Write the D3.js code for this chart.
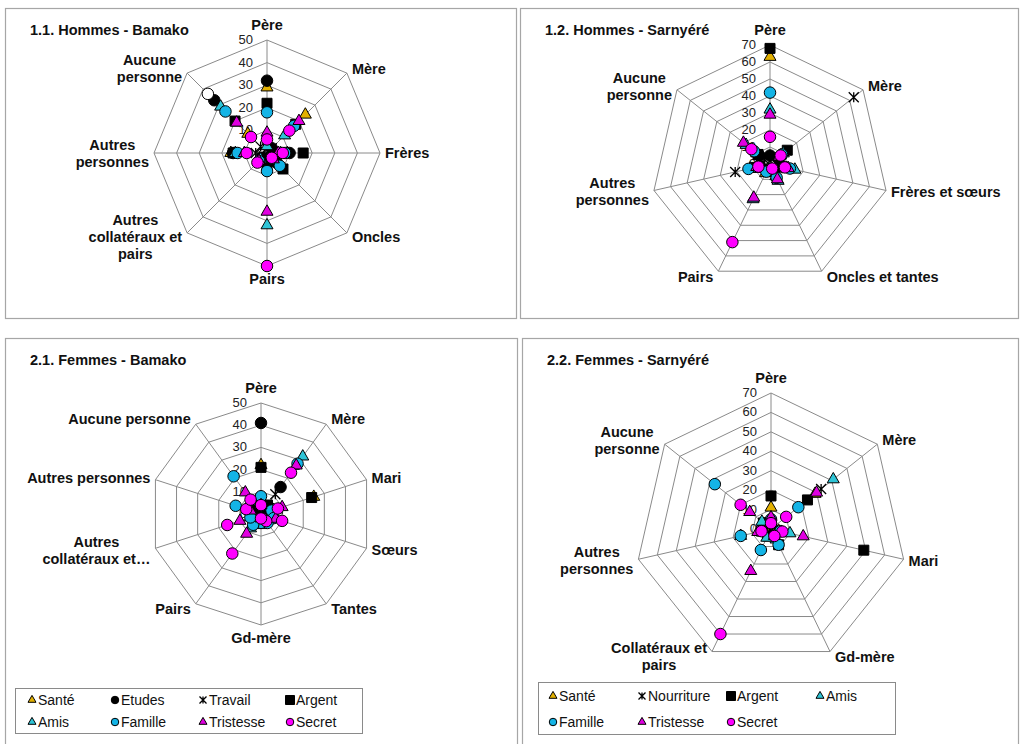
<!DOCTYPE html>
<html>
<head>
<meta charset="utf-8">
<script src="https://cdn.jsdelivr.net/npm/d3@7"></script>
<style>
  body { margin: 0; background: #fff; }
  svg { display: block; font-family: "Liberation Sans", Arial, sans-serif; }
</style>
</head>
<body>
<svg id="chart" width="1020" height="744"></svg>
<script>
// ---------- 1.1 Hommes - Bamako ----------
const categoriesHB = ["Père", "Mère", "Frères", "Oncles", "Pairs",
  "Autres\ncollatéraux et\npairs", "Autres\npersonnes", "Aucune\npersonne"];
const santeHB     = [29, 24,  9,  5,  3, 4, 16, 12];
const etudesHB    = [32,  3, 10,  6,  4, 3, 15, 33];
const travailHB   = [ 2,  3,  4,  3,  2, 2,  5,  4];
const argentHB    = [22, 18, 16, 10,  5, 3, 15, 20];
const amisHB      = [ 3, 11,  6,  5, 32, 4, 14, 29];
const familleHB   = [18, 17,  8,  8,  8, 5, 13, 26];
const tristesseHB = [ 9, 20,  5,  4, 26, 5, 10, 19];
const secretHB    = [ 6, 14,  7,  3, 50, 6,  9, 10];
const nonPreciseHB = [null, null, null, null, null, null, null, 37];

// ---------- 1.2 Hommes - Sarnyéré ----------
const categoriesHS = ["Père", "Mère", "Frères et sœurs", "Oncles et tantes", "Pairs",
  "Autres\npersonnes", "Aucune\npersonne"];
const santeHS     = [63,  8, 10,  8,  6,  8, 10];
const etudesHS    = [ 5,  6,  7,  5,  4,  6,  8];
const travailHS   = [ 2, 63,  5,  4,  3, 21,  4];
const argentHS    = [68, 13,  6,  5,  4,  9,  9];
const amisHS      = [32, 10, 15, 11, 23, 12, 18];
const familleHS   = [42,  9, 12,  9,  5, 13, 12];
const tristesseHS = [29,  7, 11, 10, 22,  8, 20];
const secretHS    = [16,  8,  9,  3, 51,  7, 14];

// ---------- 2.1 Femmes - Bamako ----------
const categoriesFB = ["Père", "Mère", "Mari", "Sœurs", "Tantes", "Gd-mère", "Pairs",
  "Autres\ncollatéraux et…", "Autres personnes", "Aucune personne"];
const santeFB     = [22,  4, 25,  3, 2, 2,  3,  3,  4,  5];
const etudesFB    = [41, 15,  5,  4, 3, 2,  3,  3,  4,  5];
const travailFB   = [ 3, 11,  8,  6, 3, 2,  2,  3,  3,  4];
const argentFB    = [21,  5, 24,  3, 2, 2,  3,  3,  4,  5];
const amisFB      = [ 5, 32,  6,  4, 3, 5,  8,  5,  6,  7];
const familleFB   = [ 8, 28,  5,  6, 5, 4,  6,  5, 12, 21];
const tristesseFB = [ 4, 27, 10,  7, 3, 2, 11, 10,  5, 12];
const secretFB    = [ 4, 23,  8, 10, 4, 2, 22, 16,  7,  8];

// ---------- 2.2 Femmes - Sarnyéré ----------
const categoriesFS = ["Père", "Mère", "Mari", "Gd-mère", "Collatéraux et\npairs",
  "Autres\npersonnes", "Aucune\npersonne"];
const santeFS      = [11, 29,  4,  3,  3,  4,  4];
const nourritureFS = [ 3, 33,  3,  2,  2,  3,  3];
const argentFS     = [17, 24, 49,  9,  4,  5,  5];
const amisFS       = [ 3, 41, 10,  6,  5, 16,  6];
const familleFS    = [ 5, 18,  5,  9, 12, 16, 37];
const tristesseFS  = [ 6, 30, 17,  4, 24,  7, 14];
const secretFS     = [ 3, 10,  6,  4, 60,  5, 20];

// Marker look for every series
const seriesStyle = {
  "Santé":      { shape: "triangle", fill: "#E2B000" },
  "Etudes":     { shape: "circle",   fill: "#000000" },
  "Travail":    { shape: "star",     fill: "#000000" },
  "Nourriture": { shape: "star",     fill: "#000000" },
  "Argent":     { shape: "square",   fill: "#000000" },
  "Amis":       { shape: "triangle", fill: "#2EC4D6" },
  "Famille":    { shape: "circle",   fill: "#14B4E6" },
  "Tristesse":  { shape: "triangle", fill: "#E000E0" },
  "Secret":     { shape: "circle",   fill: "#FF00FF" },
  "Non précisé":{ shape: "circle",   fill: "#FFFFFF" }
};

const panels = [
  {
    title: "1.1. Hommes - Bamako", box: [5, 8, 511, 310],
    cx: 267, cy: 153, radius: 113, max: 50, step: 10,
    categories: categoriesHB,
    series: [["Santé", santeHB], ["Etudes", etudesHB], ["Travail", travailHB],
             ["Argent", argentHB], ["Amis", amisHB], ["Famille", familleHB],
             ["Non précisé", nonPreciseHB],
             ["Tristesse", tristesseHB], ["Secret", secretHB]]
  },
  {
    title: "1.2. Hommes - Sarnyéré", box: [520, 8, 498, 310],
    cx: 770, cy: 164, radius: 119, max: 70, step: 10,
    categories: categoriesHS,
    series: [["Santé", santeHS], ["Etudes", etudesHS], ["Travail", travailHS],
             ["Argent", argentHS], ["Amis", amisHS], ["Famille", familleHS],
             ["Tristesse", tristesseHS], ["Secret", secretHS]]
  },
  {
    title: "2.1. Femmes - Bamako", box: [5, 338, 512, 420],
    cx: 261, cy: 514, radius: 111, max: 50, step: 10,
    categories: categoriesFB,
    series: [["Santé", santeFB], ["Etudes", etudesFB], ["Travail", travailFB],
             ["Argent", argentFB], ["Amis", amisFB], ["Famille", familleFB],
             ["Tristesse", tristesseFB], ["Secret", secretFB]],
    legend: { box: [15, 688, 347, 45], cols: [32, 115, 203, 290], rows: [700, 722],
              items: ["Santé", "Etudes", "Travail", "Argent", "Amis", "Famille", "Tristesse", "Secret"] }
  },
  {
    title: "2.2. Femmes - Sarnyéré", box: [522, 338, 496, 420],
    cx: 771, cy: 529, radius: 136, max: 70, step: 10,
    categories: categoriesFS,
    series: [["Santé", santeFS], ["Nourriture", nourritureFS], ["Argent", argentFS],
             ["Amis", amisFS], ["Famille", familleFS], ["Tristesse", tristesseFS],
             ["Secret", secretFS]],
    legend: { box: [538, 682, 357, 52], cols: [553, 642, 731, 820], rows: [696, 722],
              items: ["Santé", "Nourriture", "Argent", "Amis", "Famille", "Tristesse", "Secret"] }
  }
];

const svg = d3.select("#chart");
const GRID = "#8a8a8a";

// Append one marker of the given shape/width at (x, y)
function drawMarker(g, shape, fill, w, x, y) {
  if (shape === "star") {
    const h = w / 2;
    g.append("path")
      .attr("transform", `translate(${x},${y})`)
      .attr("d", `M${-h},${-h}L${h},${h}M${-h},${h}L${h},${-h}M0,${-h}L0,${h}`)
      .attr("stroke", "#000").attr("stroke-width", 1.3).attr("fill", "none");
    return;
  }
  let type, area;
  if (shape === "circle") { type = d3.symbolCircle; area = Math.PI * (w / 2) ** 2; }
  else if (shape === "square") { type = d3.symbolSquare; area = w * w; }
  else { type = d3.symbolTriangle; area = Math.sqrt(3) / 4 * w * w; }
  g.append("path")
    .attr("transform", `translate(${x},${y})`)
    .attr("d", d3.symbol(type, area)())
    .attr("fill", fill).attr("stroke", "#000").attr("stroke-width", 1);
}

panels.forEach(p => {
  const n = p.categories.length;
  const r = d3.scaleLinear().domain([0, p.max]).range([0, p.radius]);
  const angle = d3.scaleLinear().domain([0, n]).range([-Math.PI / 2, 1.5 * Math.PI]);
  const pt = (i, v) => [p.cx + r(v) * Math.cos(angle(i)), p.cy + r(v) * Math.sin(angle(i))];
  const ticks = d3.range(0, p.max + 0.001, p.step);

  const g = svg.append("g");

  // frame
  g.append("rect")
    .attr("x", p.box[0] + 0.5).attr("y", p.box[1] + 0.5)
    .attr("width", p.box[2]).attr("height", p.box[3])
    .attr("fill", "none").attr("stroke", "#a6a6a6").attr("stroke-width", 1.2);

  // title
  g.append("text")
    .attr("x", p.box[0] + 25).attr("y", p.box[1] + 27)
    .attr("font-size", 14.5).attr("font-weight", "bold").attr("fill", "#111")
    .text(p.title);

  // rings
  const ring = d3.line();
  ticks.filter(t => t > 0).forEach(t => {
    const pts = d3.range(n).map(i => pt(i, t));
    g.append("path").attr("d", ring(pts) + "Z")
      .attr("fill", "none").attr("stroke", GRID).attr("stroke-width", 1);
  });
  // spokes
  d3.range(n).forEach(i => {
    const [x, y] = pt(i, p.max);
    g.append("line").attr("x1", p.cx).attr("y1", p.cy).attr("x2", x).attr("y2", y)
      .attr("stroke", GRID).attr("stroke-width", 1);
  });

  // radial tick labels
  ticks.forEach(t => {
    g.append("text")
      .attr("x", p.cx - 14).attr("y", p.cy - r(t) + 4)
      .attr("text-anchor", "end").attr("font-size", 13).attr("fill", "#222")
      .text(t);
  });

  // category labels
  p.categories.forEach((label, i) => {
    const a = angle(i), c = Math.cos(a), s = Math.sin(a);
    const [vx, vy] = pt(i, p.max);
    const lines = label.split("\n");
    const lh = 17;
    const t = g.append("text").attr("font-size", 14.5).attr("font-weight", "bold").attr("fill", "#111");
    const spans = lines.map(l => t.append("tspan").attr("text-anchor", "middle").text(l));
    const w = d3.max(spans, sp => sp.node().getComputedTextLength());
    let bx, firstBase;
    if (Math.abs(c) < 0.15) {
      bx = vx;
      firstBase = s < 0 ? vy - 10 - (lines.length - 1) * lh : vy + 18;
    } else {
      bx = c > 0 ? vx + 5 + w / 2 : vx - 5 - w / 2;
      const mid = vy + s * 6;
      firstBase = mid - (lines.length - 1) * lh / 2 + 5;
    }
    spans.forEach((sp, k) => sp.attr("x", bx).attr("y", firstBase + k * lh));
  });

  // markers, one series after another
  const marks = g.append("g");
  p.series.forEach(([name, values]) => {
    const st = seriesStyle[name];
    values.forEach((v, i) => {
      if (v == null) return;
      const [x, y] = pt(i, v);
      const w = st.shape === "triangle" ? 12 : st.shape === "square" ? 10 : st.shape === "star" ? 10 : 11.5;
      drawMarker(marks, st.shape, st.fill, w, x, y);
    });
  });

  // legend
  if (p.legend) {
    const L = p.legend;
    const lg = g.append("g");
    lg.append("rect")
      .attr("x", L.box[0] + 0.5).attr("y", L.box[1] + 0.5)
      .attr("width", L.box[2]).attr("height", L.box[3])
      .attr("fill", "#fff").attr("stroke", "#8a8a8a").attr("stroke-width", 1);
    L.items.forEach((name, k) => {
      const col = k % 4, row = Math.floor(k / 4);
      const x = L.cols[col], y = L.rows[row];
      const st = seriesStyle[name];
      const w = st.shape === "triangle" ? 8 : st.shape === "square" ? 9 : st.shape === "star" ? 7 : 7.5;
      drawMarker(lg, st.shape, st.fill, w, x, y);
      lg.append("text").attr("x", x + 6).attr("y", y + 5)
        .attr("font-size", 14).attr("fill", "#111").text(name);
    });
  }
});
</script>
</body>
</html>
